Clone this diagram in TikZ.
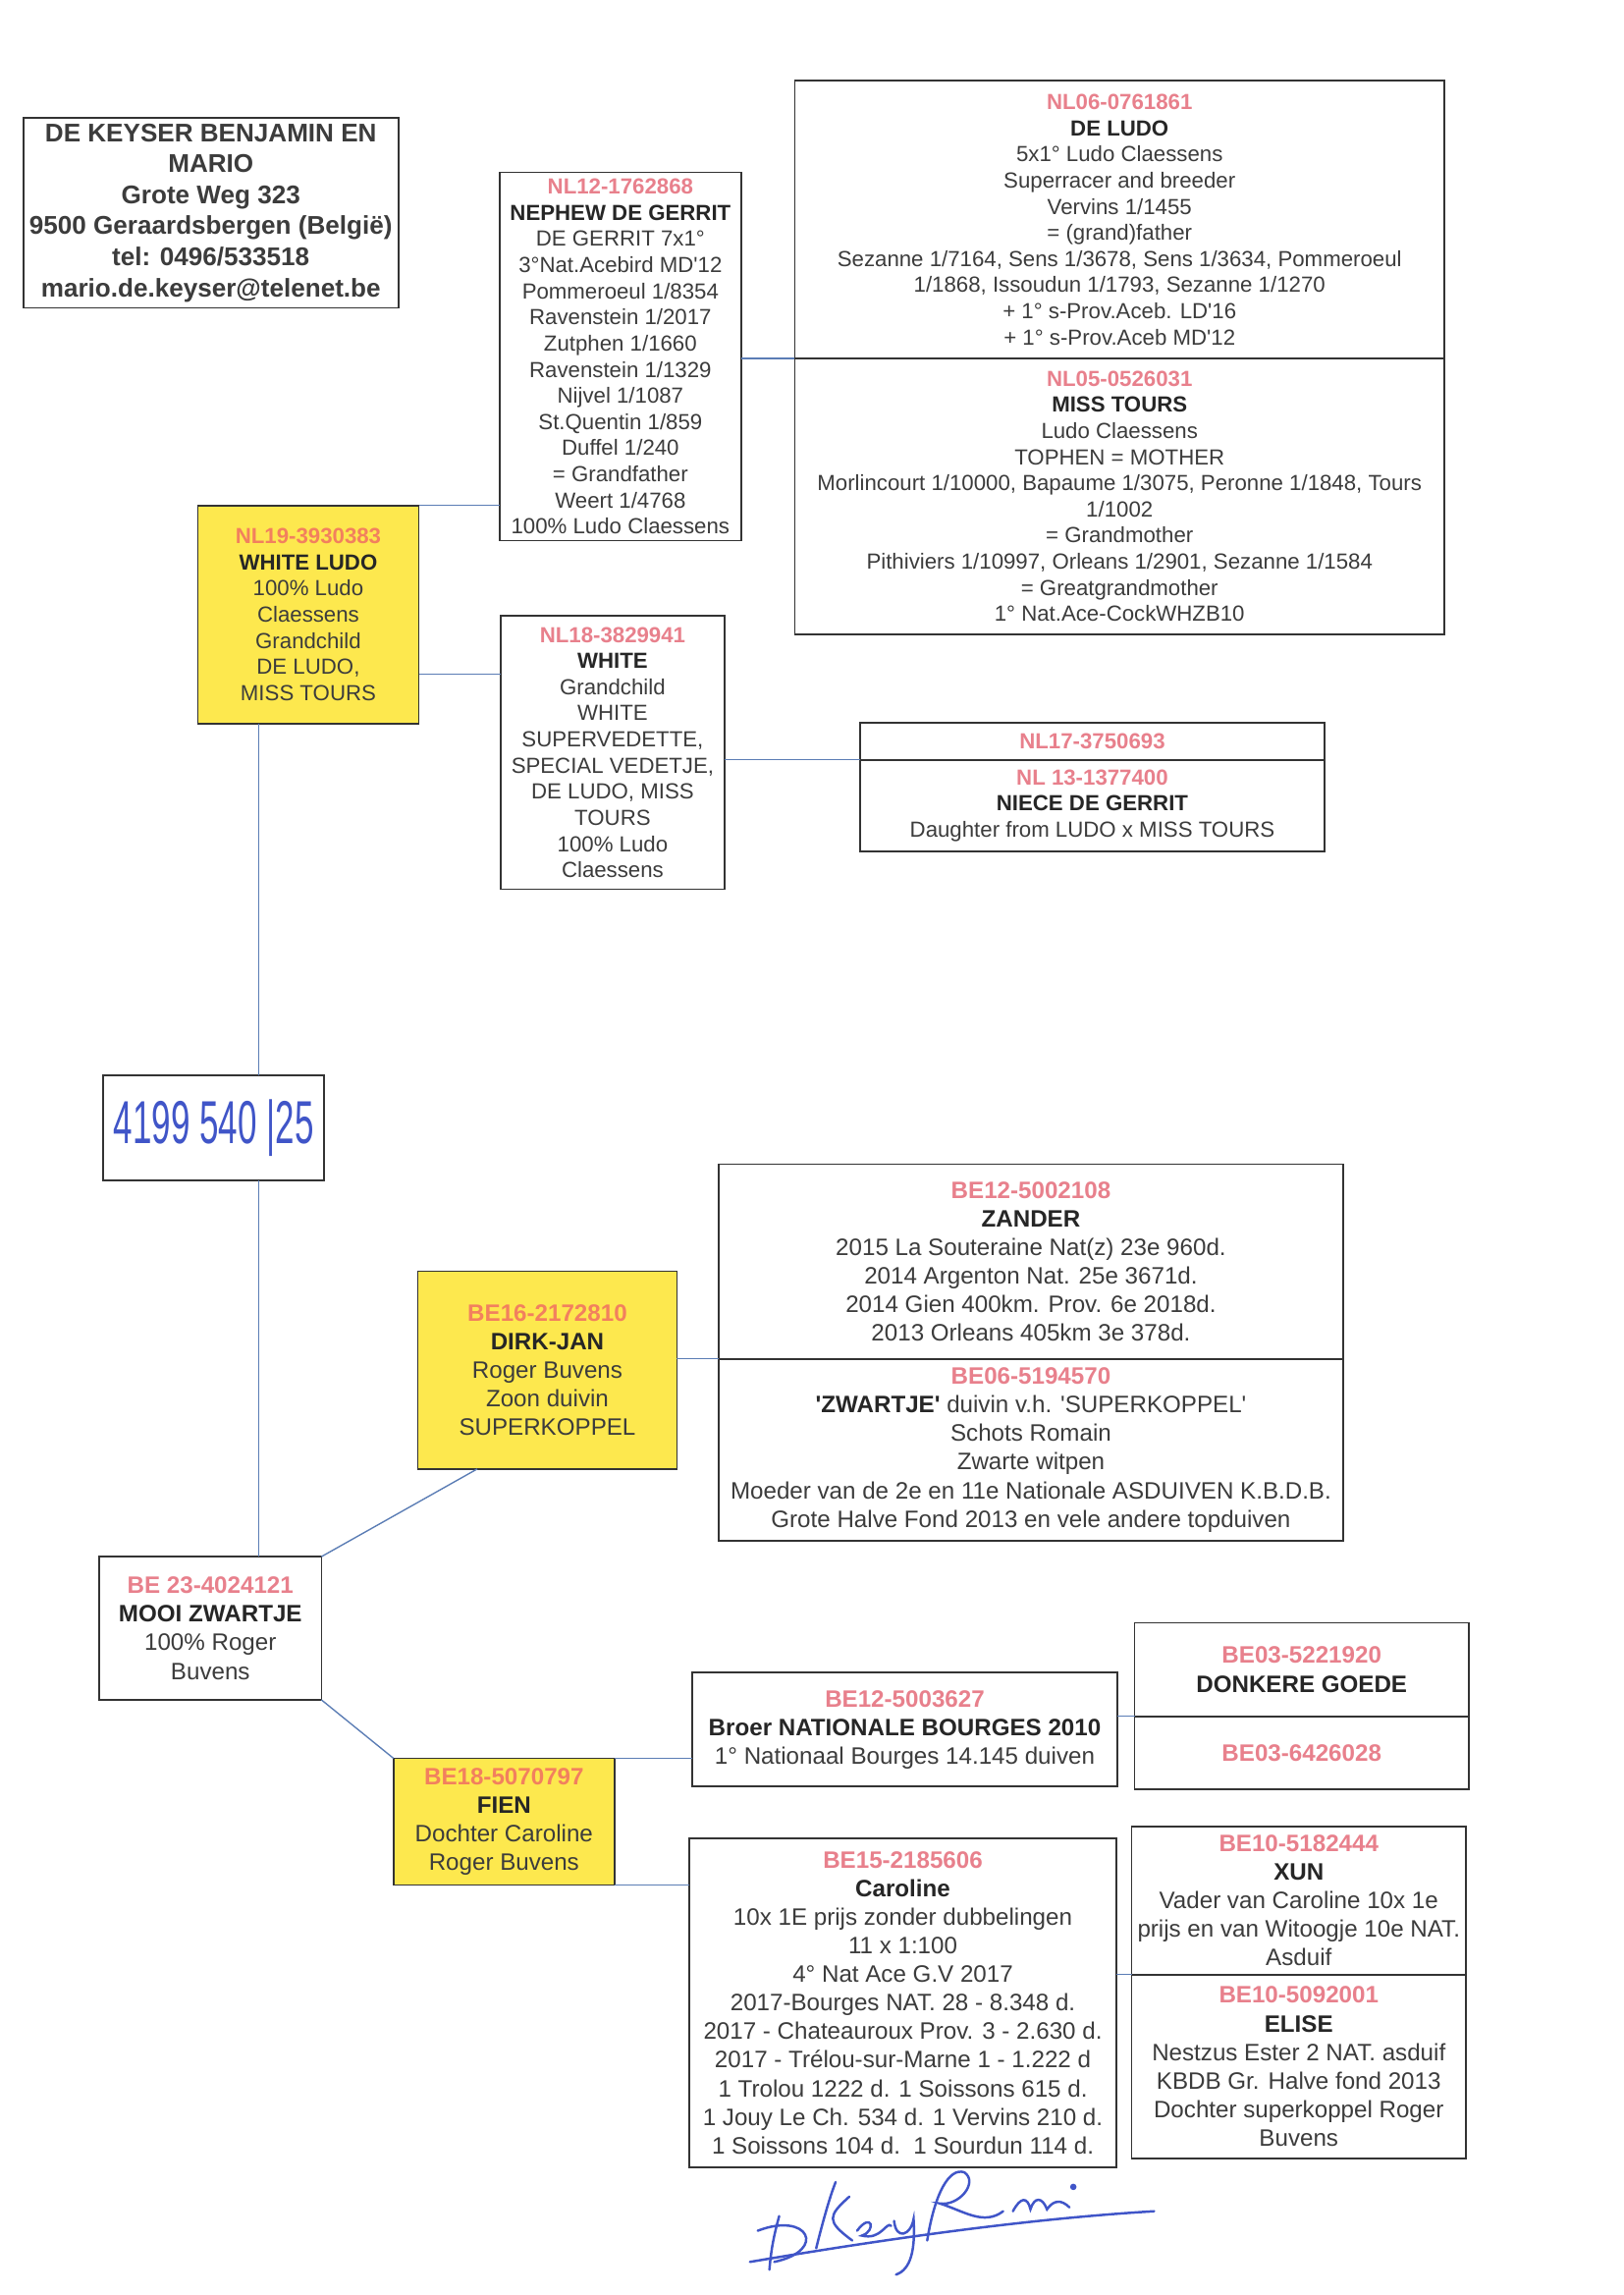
\documentclass[tikz,border=0pt]{standalone}
\usepackage{fontspec}
\setmainfont{Liberation Sans}
\usepackage{graphicx}
\usetikzlibrary{calc,positioning}
\definecolor{ringred}{HTML}{E8808C}
\definecolor{ringorange}{HTML}{F2805E}
\definecolor{boxyellow}{HTML}{FDE84E}
\definecolor{txtgray}{HTML}{3C3C3C}
\definecolor{linkblue}{HTML}{5B7DB5}
\definecolor{inkblue}{HTML}{4055C8}
\newcommand{\ringno}[1]{{\color{ringred}\bfseries #1}}
\newcommand{\yringno}[1]{{\color{ringorange}\bfseries #1}}
\newcommand{\pname}[1]{{\bfseries\color{black!85} #1}}
\newcommand{\apos}{\textquotesingle}
\tikzset{
block/.style={
  rectangle,
  draw=black!80,
  line width=0.6pt,
  fill=white,
  text=txtgray,
  align=center,
  inner sep=1pt,
  outer sep=0pt,
  font=\fontsize{8.1}{9.7}\selectfont},
bigblock/.style={
  block,
  font=\fontsize{8.8}{10.6}\selectfont},
yblock/.style={fill=boxyellow},
dims/.style 2 args={minimum width=#1*0.127mm, minimum height=#2*0.127mm},
link/.style={draw=linkblue, line width=0.5pt},
ink/.style={draw=inkblue, line width=0.9pt, line cap=round}
}
\begin{document}
\begin{tikzpicture}[x=0.127mm, y=-0.127mm]
    \useasboundingbox[fill=white] (0,0) rectangle (1667,2356);
    % owner
    \node [block, dims={385}{195}, font=\bfseries\fontsize{9.5}{11.5}\selectfont] (owner) at (216.5,218.5)
      {DE KEYSER BENJAMIN EN\\MARIO\\Grote Weg 323\\9500 Geraardsbergen (België)\\tel: 0496/533518\\mario.de.keyser@telenet.be};
    % father side
    \node [block, yblock, dims={227}{224}] (nl19) at (316.5,631)
      {\yringno{NL19-3930383}\\\pname{WHITE LUDO}\\100\% Ludo\\Claessens\\Grandchild\\DE LUDO,\\MISS TOURS};
    \node [block, dims={248}{378}] (nl12) at (637,366)
      {\ringno{NL12-1762868}\\\pname{NEPHEW DE GERRIT}\\DE GERRIT 7x1°\\3°Nat.Acebird MD\apos12\\Pommeroeul 1/8354\\Ravenstein 1/2017\\Zutphen 1/1660\\Ravenstein 1/1329\\Nijvel 1/1087\\St.Quentin 1/859\\Duffel 1/240\\= Grandfather\\Weert 1/4768\\100\% Ludo Claessens};
    \node [block, dims={667}{285}] (deludo) at (1149.5,225.5)
      {\ringno{NL06-0761861}\\\pname{DE LUDO}\\5x1° Ludo Claessens\\Superracer and breeder\\Vervins 1/1455\\= (grand)father\\Sezanne 1/7164, Sens 1/3678, Sens 1/3634, Pommeroeul\\1/1868, Issoudun 1/1793, Sezanne 1/1270\\+ 1° s-Prov.Aceb. LD\apos16\\+ 1° s-Prov.Aceb MD\apos12};
    \node [block, dims={667}{283}, below=0pt of deludo] (misstours)
      {\ringno{NL05-0526031}\\\pname{MISS TOURS}\\Ludo Claessens\\TOPHEN = MOTHER\\Morlincourt 1/10000, Bapaume 1/3075, Peronne 1/1848, Tours\\1/1002\\= Grandmother\\Pithiviers 1/10997, Orleans 1/2901, Sezanne 1/1584\\= Greatgrandmother\\1° Nat.Ace-CockWHZB10};
    \node [block, dims={230}{281}] (nl18) at (629,772.5)
      {\ringno{NL18-3829941}\\\pname{WHITE}\\Grandchild\\WHITE\\SUPERVEDETTE,\\SPECIAL VEDETJE,\\DE LUDO, MISS\\TOURS\\100\% Ludo\\Claessens};
    \node [block, dims={477}{38}] (nl17) at (1121.5,761)
      {\ringno{NL17-3750693}};
    \node [block, dims={477}{94}, below=0pt of nl17] (nl13)
      {\ringno{NL 13-1377400}\\\pname{NIECE DE GERRIT}\\Daughter from LUDO x MISS TOURS};
    % ring number
    \node [block, dims={227}{108}, text=inkblue, font=\fontsize{15}{15}\selectfont] (hand) at (219.5,1158)
      {\scalebox{0.85}[1.5]{4199 540 |25}};
    % mother side
    \node [bigblock, yblock, dims={266}{203}] (be16) at (562,1406.5)
      {\yringno{BE16-2172810}\\\pname{DIRK-JAN}\\Roger Buvens\\Zoon duivin\\SUPERKOPPEL};
    \node [bigblock, dims={641}{200}] (zander) at (1058.5,1295)
      {\ringno{BE12-5002108}\\\pname{ZANDER}\\2015 La Souteraine Nat(z) 23e 960d.\\2014 Argenton Nat. 25e 3671d.\\2014 Gien 400km. Prov. 6e 2018d.\\2013 Orleans 405km 3e 378d.};
    \node [bigblock, dims={641}{187}, below=0pt of zander] (zwartje)
      {\ringno{BE06-5194570}\\\pname{\apos ZWARTJE\apos} duivin v.h. \apos SUPERKOPPEL\apos\\Schots Romain\\Zwarte witpen\\Moeder van de 2e en 11e Nationale ASDUIVEN K.B.D.B.\\Grote Halve Fond 2013 en vele andere topduiven};
    \node [bigblock, dims={228}{147}] (be23) at (216,1671.5)
      {\ringno{BE 23-4024121}\\\pname{MOOI ZWARTJE}\\100\% Roger\\Buvens};
    \node [bigblock, yblock, dims={227}{130}] (be18) at (517.5,1870)
      {\yringno{BE18-5070797}\\\pname{FIEN}\\Dochter Caroline\\Roger Buvens};
    \node [bigblock, dims={436}{117}] (broer) at (929,1775.5)
      {\ringno{BE12-5003627}\\\pname{Broer NATIONALE BOURGES 2010}\\1° Nationaal Bourges 14.145 duiven};
    \node [bigblock, dims={343}{96}] (donkere) at (1336.5,1714)
      {\ringno{BE03-5221920}\\\pname{DONKERE GOEDE}};
    \node [bigblock, dims={343}{75}, below=0pt of donkere] (be03)
      {\ringno{BE03-6426028}};
    \node [bigblock, dims={438}{338}] (caroline) at (927,2056)
      {\ringno{BE15-2185606}\\\pname{Caroline}\\10x 1E prijs zonder dubbelingen\\11 x 1:100\\4° Nat Ace G.V 2017\\2017-Bourges NAT. 28 - 8.348 d.\\2017 - Chateauroux Prov. 3 - 2.630 d.\\2017 - Trélou-sur-Marne 1 - 1.222 d\\1 Trolou 1222 d. 1 Soissons 615 d.\\1 Jouy Le Ch. 534 d. 1 Vervins 210 d.\\1 Soissons 104 d.\ \ 1 Sourdun 114 d.};
    \node [bigblock, dims={343}{152}] (xun) at (1333.5,1951)
      {\ringno{BE10-5182444}\\\pname{XUN}\\Vader van Caroline 10x 1e\\prijs en van Witoogje 10e NAT.\\Asduif};
    \node [bigblock, dims={343}{189}, below=0pt of xun] (elise)
      {\ringno{BE10-5092001}\\\pname{ELISE}\\Nestzus Ester 2 NAT. asduif\\KBDB Gr. Halve fond 2013\\Dochter superkoppel Roger\\Buvens};
    % connectors
    \coordinate (nl19tap) at ($(nl19.east)+(0,61)$);
    \coordinate (stem) at ($(hand.north)+(46,0)$);
    \path [link] (nl19.north east) -- (nl19.north east -| nl12.west);
    \path [link] (nl19tap) -- (nl19tap -| nl18.west);
    \path [link] (nl12.east |- deludo.south) -- (deludo.south west);
    \path [link] (nl18.east |- nl17.south) -- (nl17.south west);
    \path [link] (stem |- nl19.south) -- (stem);
    \path [link] (hand.south -| stem) -- (stem |- be23.north);
    \path [link] (be23.north east) -- ($(be16.south west)+(61,0)$);
    \path [link] (be16.east |- zander.south) -- (zander.south west);
    \path [link] (be23.south east) -- (be18.north west);
    \path [link] (be18.north east) -- (be18.north east -| broer.west);
    \path [link] (be18.south east) -- (be18.south east -| caroline.west);
    \path [link] (broer.east |- donkere.south) -- (donkere.south west);
    \path [link] (caroline.east |- xun.south) -- (xun.south west);
    % signature
    \draw[ink] (790,2330) .. controls (792,2305) and (796,2290) .. (800,2275);
    \draw[ink] (778,2290) .. controls (830,2270) and (850,2310) .. (795,2322);
    \draw[ink] (838,2308) .. controls (845,2280) and (852,2255) .. (858,2240);
    \draw[ink] (872,2255) .. controls (850,2275) and (848,2280) .. (875,2300);
    \draw[ink] (880,2290) .. controls (895,2270) and (900,2290) .. (885,2295) .. controls (905,2300) and (910,2280) .. (915,2285);
    \draw[ink] (918,2280) .. controls (920,2300) and (935,2295) .. (938,2278) .. controls (940,2310) and (935,2330) .. (920,2335);
    \draw[ink] (770,2322) .. controls (900,2300) and (1050,2278) .. (1185,2270);
    \draw[ink] (952,2300) .. controls (960,2250) and (975,2225) .. (990,2230) .. controls (1005,2240) and (985,2265) .. (965,2262) .. controls (990,2270) and (1010,2285) .. (1030,2270);
    \draw[ink] (1040,2270) .. controls (1048,2255) and (1055,2255) .. (1058,2268) .. controls (1062,2255) and (1070,2255) .. (1075,2268) .. controls (1082,2258) and (1090,2258) .. (1098,2266);
    \fill[inkblue] (1102,2245) circle (1.2pt);
\end{tikzpicture}
\end{document}
